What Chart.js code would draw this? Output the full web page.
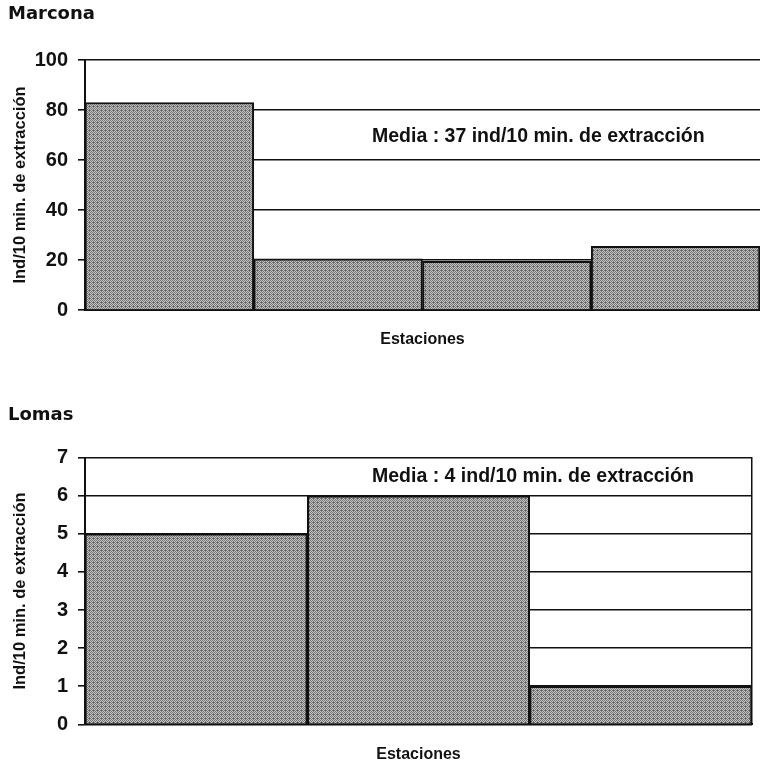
<!DOCTYPE html>
<html>
<head>
<meta charset="utf-8">
<script src="https://cdn.jsdelivr.net/npm/chart.js@4/dist/chart.umd.min.js"></script>
<style>
  html, body { margin: 0; padding: 0; background: #fff; }
  body { width: 760px; height: 771px; position: relative; overflow: hidden; }
  .panel { position: absolute; left: 0; width: 760px; }
  #panel-marcona { top: 0; height: 360px; }
  #panel-lomas { top: 380px; height: 391px; }
</style>
</head>
<body>
<div class="panel" id="panel-marcona"><canvas id="chart-marcona"></canvas></div>
<div class="panel" id="panel-lomas"><canvas id="chart-lomas"></canvas></div>
<script>
// ── Data ──────────────────────────────────────────────────────────────────────
const marconaStations = ["1", "2", "3", "4"];
const marconaValues = [83, 20.5, 19.5, 25.5];
const marconaMax = 100;
const marconaStep = 20;
const marconaMedia = "Media : 37 ind/10 min. de extracción";

const lomasStations = ["1", "2", "3"];
const lomasValues = [5, 6, 1];
const lomasMax = 7;
const lomasStep = 1;
const lomasMedia = "Media : 4 ind/10 min. de extracción";

const yTitle = "Ind/10 min. de extracción";
const xTitle = "Estaciones";

// ── Styling helpers ───────────────────────────────────────────────────────────
const INK = "#111";
const SANS = "'Liberation Sans', Arial, sans-serif";

// dithered grey, like the scanned bars
function stipple() {
  const c = document.createElement("canvas");
  c.width = 4;
  c.height = 4;
  const g = c.getContext("2d");
  g.fillStyle = "#c2c2c2";
  g.fillRect(0, 0, 4, 4);
  g.fillStyle = "#777";
  for (let y = 0; y < 4; y++) {
    for (let x = 0; x < 4; x++) {
      if ((x + y) % 2 === 0) g.fillRect(x, y, 1, 1);
    }
  }
  g.fillStyle = "#5e5e5e";
  g.fillRect(1, 2, 1, 1);
  return g.createPattern(c, "repeat");
}

// "Media : ..." note written inside the plot
const mediaNote = {
  id: "mediaNote",
  afterDatasetsDraw(chart, args, opts) {
    const { ctx, chartArea, scales } = chart;
    ctx.save();
    ctx.font = "bold 19.5px " + SANS;
    ctx.fillStyle = INK;
    ctx.textAlign = "left";
    ctx.textBaseline = "middle";
    ctx.fillText(opts.text, chartArea.left + 287, scales.y.getPixelForValue(opts.at));
    ctx.restore();
  },
};

Chart.defaults.color = INK;
Chart.defaults.font.family = SANS;

function makeChart(canvasId, cfg) {
  return new Chart(document.getElementById(canvasId), {
    type: "bar",
    data: {
      labels: cfg.labels,
      datasets: [
        {
          data: cfg.values,
          backgroundColor: stipple(),
          borderColor: INK,
          borderWidth: 2,
          barPercentage: 1,
          categoryPercentage: 1,
        },
      ],
    },
    options: {
      responsive: true,
      maintainAspectRatio: false,
      animation: false,
      events: [],
      layout: { padding: { left: 8, right: cfg.padRight, top: 0, bottom: 0 } },
      plugins: {
        legend: { display: false },
        tooltip: { enabled: false },
        title: {
          display: true,
          text: cfg.title,
          align: "start",
          color: INK,
          font: { family: "'DejaVu Sans', sans-serif", size: 18, weight: "bold" },
          padding: cfg.titlePad,
        },
        mediaNote: { text: cfg.media, at: cfg.mediaAt },
      },
      scales: {
        x: {
          grid: { display: false },
          border: { display: true, color: INK, width: 2 },
          ticks: { display: false },
          title: {
            display: true,
            text: xTitle,
            color: INK,
            font: { size: 16, weight: "bold" },
            padding: { top: 0, bottom: cfg.xTitleBottom },
          },
          afterFit: (s) => { s.height = cfg.xHeight; },
        },
        y: {
          min: 0,
          max: cfg.max,
          ticks: {
            stepSize: cfg.step,
            padding: 10,
            color: INK,
            font: { size: 20, weight: "bold" },
          },
          grid: { color: INK, lineWidth: 1.6, tickLength: 7 },
          border: { display: true, color: INK, width: 2 },
          title: {
            display: true,
            text: yTitle,
            color: INK,
            font: { size: 16.5, weight: "bold" },
            padding: { top: 3, bottom: 0 },
          },
          afterFit: (s) => { s.width = 77; },
        },
        ...(cfg.rightFrame
          ? {
              yRight: {
                position: "right",
                min: 0,
                max: cfg.max,
                ticks: { display: false },
                grid: { display: false },
                border: { display: true, color: INK, width: 1.5 },
                afterFit: (s) => { s.width = 0; },
              },
            }
          : {}),
      },
    },
    plugins: [mediaNote],
  });
}

// ── Charts ────────────────────────────────────────────────────────────────────
makeChart("chart-marcona", {
  labels: marconaStations,
  values: marconaValues,
  max: marconaMax,
  step: marconaStep,
  title: "Marcona",
  titlePad: { top: 3.7, bottom: 34.7 },
  media: marconaMedia,
  mediaAt: 69.5,
  xHeight: 50,
  xTitleBottom: 10.4,
  padRight: 0,
  rightFrame: false,
});

makeChart("chart-lomas", {
  labels: lomasStations,
  values: lomasValues,
  max: lomasMax,
  step: lomasStep,
  title: "Lomas",
  titlePad: { top: 24.2, bottom: 31.9 },
  media: lomasMedia,
  mediaAt: 6.5,
  xHeight: 46.7,
  xTitleBottom: 6.4,
  padRight: 8,
  rightFrame: true,
});
</script>
</body>
</html>
